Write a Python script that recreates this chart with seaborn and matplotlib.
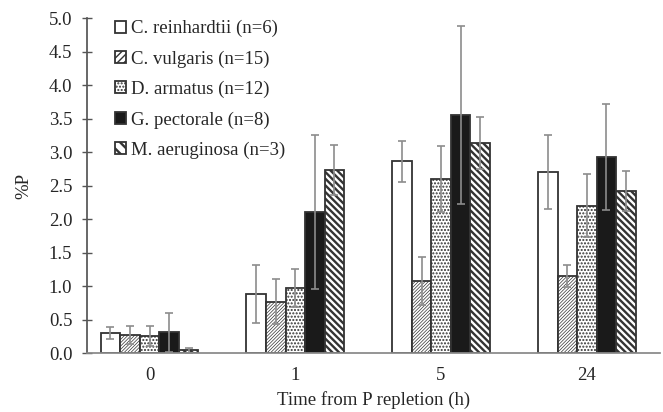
import matplotlib
matplotlib.use("Agg")
import matplotlib.pyplot as plt
import seaborn as sns
import pandas as pd
import numpy as np

times = ["0", "1", "5", "24"]
species = ["C. reinhardtii (n=6)", "C. vulgaris (n=15)", "D. armatus (n=12)",
           "G. pectorale (n=8)", "M. aeruginosa (n=3)"]
c_reinhardtii = [0.30, 0.88, 2.86, 2.70]
c_vulgaris = [0.27, 0.77, 1.08, 1.15]
d_armatus = [0.25, 0.97, 2.60, 2.20]
g_pectorale = [0.31, 2.11, 3.55, 2.93]
m_aeruginosa = [0.04, 2.73, 3.14, 2.42]
err_c_reinhardtii = [0.09, 0.43, 0.31, 0.55]
err_c_vulgaris = [0.14, 0.33, 0.36, 0.17]
err_d_armatus = [0.15, 0.28, 0.49, 0.47]
err_g_pectorale = [0.29, 1.15, 1.33, 0.79]
err_m_aeruginosa = [0.04, 0.37, 0.39, 0.30]

values = [c_reinhardtii, c_vulgaris, d_armatus, g_pectorale, m_aeruginosa]
errors = [err_c_reinhardtii, err_c_vulgaris, err_d_armatus, err_g_pectorale, err_m_aeruginosa]

rows = []
for sp, vals in zip(species, values):
    for t, v in zip(times, vals):
        rows.append({"time": t, "species": sp, "P": v})
df = pd.DataFrame(rows)

sns.set_theme(style="ticks")
plt.rcParams["font.family"] = ["Liberation Serif", "DejaVu Serif"]
plt.rcParams["hatch.color"] = "#333333"

FS = 13.5
fig, ax = plt.subplots(figsize=(6.63, 4.12), dpi=100)
fig.subplots_adjust(left=0.131, right=0.995, top=0.956, bottom=0.143)

palette = ["white", "white", "white", "#1a1a1a", "white"]
sns.barplot(data=df, x="time", y="P", hue="species", order=times, hue_order=species,
            palette=palette, width=0.67, errorbar=None, ax=ax,
            edgecolor="#333333", linewidth=1.3, legend=True)

hatches = [None, "//////////", ".....", None, "\\\\\\\\\\"]
hatch_lw = [1.0, 0.5, 1.0, 1.0, 1.7]
bar_containers = list(ax.containers)
for i, cont in enumerate(bar_containers):
    for bar in cont:
        if hatches[i]:
            bar.set_hatch(hatches[i])
            if hasattr(bar, "set_hatch_linewidth"):
                bar.set_hatch_linewidth(hatch_lw[i])
    xs = [b.get_x() + b.get_width() / 2 for b in cont]
    ax.errorbar(xs, values[i], yerr=errors[i], fmt="none", ecolor="#8c8c8c",
                elinewidth=1.2, capsize=3, capthick=1.2, zorder=5)

ax.set_xlim(-0.43, 3.5)
ax.set_ylim(0, 5.0)
ax.set_yticks(np.arange(0, 5.01, 0.5))
ax.set_yticklabels([f"{v:.1f}" for v in np.arange(0, 5.01, 0.5)], fontsize=FS)
ax.tick_params(axis="y", direction="inout", length=7, width=1, color="#555555", pad=7)
ax.tick_params(axis="x", length=0, labelsize=FS, pad=10)
for s in ["top", "right"]:
    ax.spines[s].set_visible(False)
ax.spines["left"].set_color("#555555")
ax.spines["bottom"].set_color("#888888")
ax.set_xlabel("Time from P repletion (h)", fontsize=FS, labelpad=5)
ax.set_ylabel("%P", fontsize=FS, labelpad=12)

leg = ax.legend(loc="upper left", bbox_to_anchor=(0.02, 1.045), frameon=False,
                fontsize=FS, handlelength=0.6, handleheight=0.6, handletextpad=0.25,
                labelspacing=0.7)
for h, ht, lw in zip(leg.legend_handles, hatches, hatch_lw):
    h.set_edgecolor("#333333")
    if ht:
        h.set_hatch(ht.replace("//////////", "/////").replace("\\\\\\\\\\", "\\\\\\"))
        if hasattr(h, "set_hatch_linewidth"):
            h.set_hatch_linewidth(max(lw, 1.0))

fig.savefig("out.png", dpi=100)
